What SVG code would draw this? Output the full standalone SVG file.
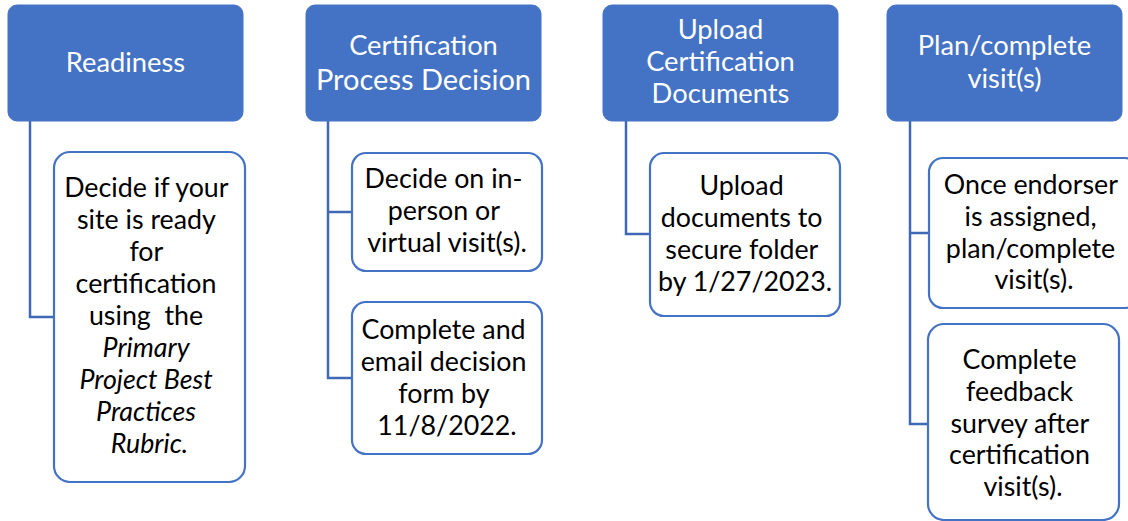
<svg xmlns="http://www.w3.org/2000/svg" width="1128" height="521" viewBox="0 0 1128 521">
<style>
.hdr{fill:#4472C4;stroke:#4472C4;stroke-width:1}
.box{fill:#FFFFFF;stroke:#4472C4;stroke-width:2.2}
.ht{font-family:Lato,"Liberation Sans",sans-serif;font-size:27.3px;fill:#FFFFFF;text-anchor:middle}
.big{font-size:29px}
.bt{font-family:Lato,"Liberation Sans",sans-serif;font-size:26.8px;fill:#000000;text-anchor:middle}
.it{font-style:italic}
.con{fill:none;stroke:#3F68B5;stroke-width:2.5}
</style>
<rect width="1128" height="521" fill="#FFFFFF"/>
<g id="connectors">
<path class="con" d="M30,121 V317 H54"/>
<path class="con" d="M328,121 V378 H352 M328,212 H352"/>
<path class="con" d="M626,121 V234 H650"/>
<path class="con" d="M910,121 V424 H928 M910,233 H929"/>
</g>
<g id="readiness">
<rect class="hdr" x="8" y="5" width="235" height="116" rx="9"/>
<text class="ht" x="125.5" y="72">Readiness</text>
</g>
<g id="readiness-detail">
<rect class="box" x="54" y="152" width="191" height="330" rx="16"/>
<text class="bt">
<tspan x="149.5" y="197">Decide if your</tspan>
<tspan x="149.5" y="229">site is ready</tspan>
<tspan x="149.5" y="261">for</tspan>
<tspan x="149.5" y="293">certification</tspan>
<tspan x="149.5" y="325">using&#160; the</tspan>
<tspan class="it" x="149.5" y="357">Primary</tspan>
<tspan class="it" x="149.5" y="389">Project Best</tspan>
<tspan class="it" x="149.5" y="421">Practices</tspan>
<tspan class="it" x="149.5" y="453">Rubric.</tspan>
</text>
</g>
<g id="decision">
<rect class="hdr" x="306" y="5" width="235" height="116" rx="9"/>
<text class="ht" x="423.5" y="55">Certification</text>
<text class="ht big" x="423.5" y="90">Process Decision</text>
</g>
<g id="decision-visit">
<rect class="box" x="352" y="153" width="190" height="118" rx="14"/>
<text class="bt">
<tspan x="447" y="188">Decide on in-</tspan>
<tspan x="447" y="220">person or</tspan>
<tspan x="447" y="252">virtual visit(s).</tspan>
</text>
</g>
<g id="decision-form">
<rect class="box" x="352" y="302" width="190" height="152" rx="14"/>
<text class="bt">
<tspan x="447" y="339">Complete and</tspan>
<tspan x="447" y="371">email decision</tspan>
<tspan x="447" y="403">form by</tspan>
<tspan x="447" y="435">11/8/2022.</tspan>
</text>
</g>
<g id="upload">
<rect class="hdr" x="603" y="5" width="235" height="116" rx="9"/>
<text class="ht" x="720.5" y="39">Upload</text>
<text class="ht" x="720.5" y="71">Certification</text>
<text class="ht" x="720.5" y="103">Documents</text>
</g>
<g id="upload-detail">
<rect class="box" x="650" y="153" width="190" height="163" rx="14"/>
<text class="bt">
<tspan x="745" y="195">Upload</tspan>
<tspan x="745" y="227">documents to</tspan>
<tspan x="745" y="259">secure folder</tspan>
<tspan x="745" y="291">by 1/27/2023.</tspan>
</text>
</g>
<g id="visits">
<rect class="hdr" x="887" y="5" width="235" height="116" rx="9"/>
<text class="ht" x="1004.5" y="55">Plan/complete</text>
<text class="ht" x="1004.5" y="88">visit(s)</text>
</g>
<g id="visits-plan">
<rect class="box" x="929" y="158" width="210" height="150" rx="14"/>
<text class="bt">
<tspan x="1034" y="194">Once endorser</tspan>
<tspan x="1034" y="226">is assigned,</tspan>
<tspan x="1034" y="258">plan/complete</tspan>
<tspan x="1034" y="289">visit(s).</tspan>
</text>
</g>
<g id="visits-survey">
<rect class="box" x="928" y="324" width="191" height="196" rx="16"/>
<text class="bt">
<tspan x="1023" y="369">Complete</tspan>
<tspan x="1023" y="401">feedback</tspan>
<tspan x="1023" y="433">survey after</tspan>
<tspan x="1023" y="464">certification</tspan>
<tspan x="1023" y="496">visit(s).</tspan>
</text>
</g>
</svg>
